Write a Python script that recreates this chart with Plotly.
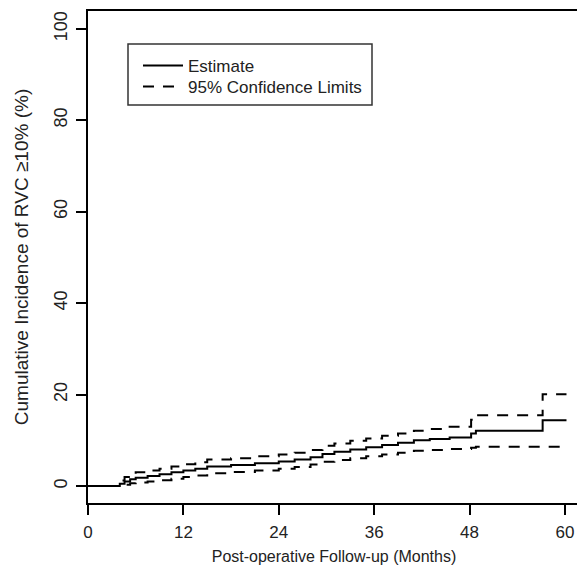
import plotly.graph_objects as go

# Step-function data (months, cumulative incidence %)
months = [0, 4.0, 4.6, 5.3, 6.0, 7.5, 9.0, 10.5, 12.0, 13.5, 15.0, 18.0, 21.0, 24.0, 26.0,
          28.0, 29.5, 31.0, 33.0, 35.0, 37.0, 39.0, 41.0, 43.0, 45.5, 48.2, 48.8, 57.2, 60.2]
estimate = [0, 0.5, 1.0, 1.5, 1.8, 2.2, 2.6, 3.0, 3.4, 3.8, 4.3, 4.6, 5.0, 5.4, 5.8,
            6.3, 7.0, 7.5, 8.0, 8.5, 9.0, 9.5, 10.0, 10.3, 10.6, 11.5, 12.1, 14.4, 14.4]
upper_cl = [0, 1.2, 2.0, 2.6, 3.0, 3.4, 3.8, 4.3, 4.8, 5.2, 5.8, 6.1, 6.5, 6.9, 7.3,
            7.9, 8.8, 9.3, 9.9, 10.4, 11.0, 11.5, 12.1, 12.5, 13.0, 14.5, 15.5, 20.1, 20.1]
lower_cl = [0, 0.1, 0.3, 0.6, 0.8, 1.0, 1.3, 1.6, 2.0, 2.3, 2.8, 3.1, 3.4, 3.8, 4.2,
            4.7, 5.3, 5.7, 6.1, 6.5, 6.9, 7.3, 7.7, 7.9, 8.1, 8.4, 8.6, 8.6, 8.6]

x_ticks = [0, 12, 24, 36, 48, 60]
y_ticks = [0, 20, 40, 60, 80, 100]

FONT = "Liberation Sans, Arial, sans-serif"
TXT = "#222222"

fig = go.Figure()
fig.add_trace(go.Scatter(x=months, y=estimate, mode="lines", line_shape="hv",
                         line=dict(color="black", width=2), name="Estimate",
                         legend="legend"))
fig.add_trace(go.Scatter(x=months, y=upper_cl, mode="lines", line_shape="hv",
                         line=dict(color="black", width=2, dash="11px,9px"),
                         name="95% Confidence Limits", legend="legend2"))
fig.add_trace(go.Scatter(x=months, y=lower_cl, mode="lines", line_shape="hv",
                         line=dict(color="black", width=2, dash="11px,9px"),
                         name="95% Confidence Limits", showlegend=False))

# page has an 8px body margin; plot area in page px: x 88..580, y 11..503
def px_x(p):
    return (p - 88) / 492.0

def px_y(p):
    return 1 - (p - 11) / 492.0

fig.add_shape(type="rect", xref="paper", yref="paper",
              x0=px_x(128), x1=px_x(372), y0=px_y(105), y1=px_y(44),
              line=dict(color="#333333", width=1.5), fillcolor="white", layer="below")

leg_common = dict(xanchor="left", yanchor="middle", borderwidth=0,
                  bgcolor="rgba(0,0,0,0)", font=dict(size=17, color=TXT),
                  itemwidth=40)

fig.update_layout(
    width=577, height=569,
    margin=dict(l=80, r=5, t=3, b=74),
    plot_bgcolor="white", paper_bgcolor="white",
    font=dict(family=FONT, size=16, color=TXT),
    legend=dict(x=px_x(138), y=px_y(66), **leg_common),
    legend2=dict(x=px_x(138), y=px_y(87), **leg_common),
    showlegend=True,
)
fig.update_xaxes(range=[0, 61.9], tickvals=x_ticks, ticktext=[str(v) for v in x_ticks],
                 showgrid=False, zeroline=False, showline=True, mirror=True,
                 linecolor="black", linewidth=2, ticks="outside", ticklen=10,
                 tickwidth=2, tickcolor="black", automargin=False,
                 ticklabelstandoff=3,
                 title=dict(text="Post-operative Follow-up (Months)", standoff=9,
                            font=dict(size=16, color=TXT)),
                 tickfont=dict(size=17, color=TXT))
fig.update_yaxes(range=[-3.7, 103.9], tickvals=y_ticks, ticktext=[str(v) for v in y_ticks],
                 showgrid=False, zeroline=False, showline=True, mirror=True,
                 linecolor="black", linewidth=2, ticks="outside", ticklen=10,
                 tickwidth=2, tickcolor="black", tickangle=-90, automargin=False,
                 ticklabelstandoff=2,
                 title=dict(text="Cumulative Incidence of RVC ≥10% (%)", standoff=17,
                            font=dict(size=19, color=TXT)),
                 tickfont=dict(size=18, color=TXT))

fig.write_html("out.html")
